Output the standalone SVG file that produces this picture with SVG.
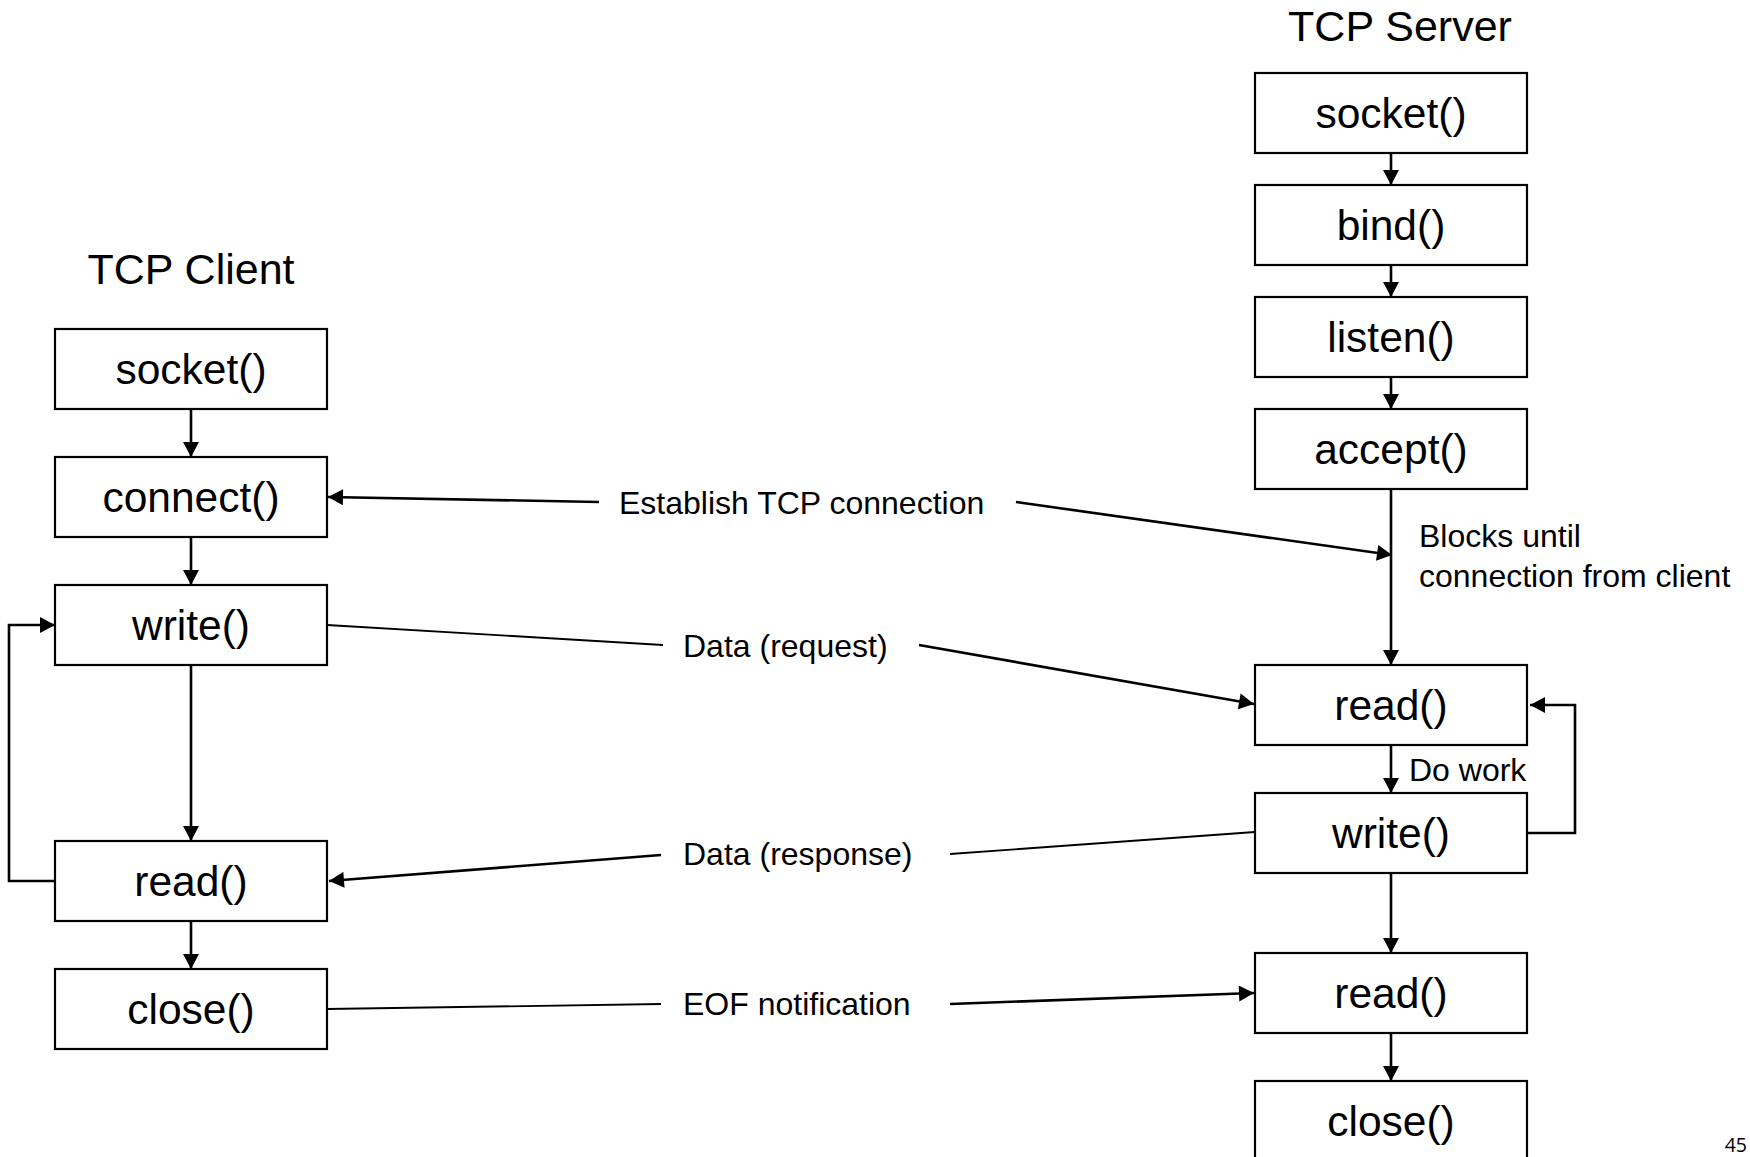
<svg xmlns="http://www.w3.org/2000/svg" width="1750" height="1157" viewBox="0 0 1750 1157">
<style>
.box{fill:#fff;stroke:#000;stroke-width:2.2}
.bt{font-family:"Liberation Sans",Arial,sans-serif;font-size:42.5px;text-anchor:middle;fill:#000}
.title{font-family:"Liberation Sans",Arial,sans-serif;font-size:43px;text-anchor:middle;fill:#000}
.lbl{font-family:"Liberation Sans",Arial,sans-serif;font-size:32px;fill:#000}
.c{fill:none;stroke:#000;stroke-width:2.6}
.ca{fill:none;stroke:#000;stroke-width:2.6}
.cp{fill:none;stroke:#000;stroke-width:1.8}
.pn{font-family:"Open Sans","Liberation Sans",sans-serif;font-size:19.5px;text-anchor:end;fill:#000}
</style>
<defs>
<marker id="ah" markerUnits="userSpaceOnUse" markerWidth="16" markerHeight="16" viewBox="0 0 15 16" refX="15" refY="8" orient="auto">
<path d="M0,0 L15,8 L0,16 Z" fill="#000"/>
</marker>
</defs>
<rect width="1750" height="1157" fill="#fff"/>

<text class="title" x="191" y="284">TCP Client</text>
<text class="title" x="1400" y="41">TCP Server</text>

<g id="connectors">
<line class="c" x1="191" y1="409" x2="191" y2="457" marker-end="url(#ah)"/>
<line class="c" x1="191" y1="537" x2="191" y2="585" marker-end="url(#ah)"/>
<line class="c" x1="191" y1="665" x2="191" y2="841" marker-end="url(#ah)"/>
<line class="c" x1="191" y1="921" x2="191" y2="969" marker-end="url(#ah)"/>
<polyline class="c" points="55,881 9,881 9,625 55,625" marker-end="url(#ah)"/>

<line class="c" x1="1391" y1="153" x2="1391" y2="185" marker-end="url(#ah)"/>
<line class="c" x1="1391" y1="265" x2="1391" y2="297" marker-end="url(#ah)"/>
<line class="c" x1="1391" y1="377" x2="1391" y2="409" marker-end="url(#ah)"/>
<line class="c" x1="1391" y1="489" x2="1391" y2="665" marker-end="url(#ah)"/>
<line class="c" x1="1391" y1="745" x2="1391" y2="793" marker-end="url(#ah)"/>
<line class="c" x1="1391" y1="873" x2="1391" y2="953" marker-end="url(#ah)"/>
<line class="c" x1="1391" y1="1033" x2="1391" y2="1081" marker-end="url(#ah)"/>
<polyline class="c" points="1527,833 1575,833 1575,705 1530,705" marker-end="url(#ah)"/>

<line class="ca" x1="599" y1="502" x2="328" y2="497" marker-end="url(#ah)"/>
<line class="ca" x1="1016" y1="502" x2="1392" y2="555" marker-end="url(#ah)"/>

<line class="cp" x1="327" y1="625" x2="663" y2="645"/>
<line class="ca" x1="919" y1="645" x2="1254" y2="704" marker-end="url(#ah)"/>

<line class="cp" x1="1255" y1="832" x2="950" y2="854"/>
<line class="ca" x1="661" y1="855" x2="329" y2="881" marker-end="url(#ah)"/>

<line class="cp" x1="327" y1="1009" x2="661" y2="1004"/>
<line class="ca" x1="950" y1="1004" x2="1254" y2="993" marker-end="url(#ah)"/>
</g>

<g id="c_socket"><rect class="box" x="55" y="329" width="272" height="80"/><text class="bt" x="191" y="384">socket()</text></g>
<g id="c_connect"><rect class="box" x="55" y="457" width="272" height="80"/><text class="bt" x="191" y="512">connect()</text></g>
<g id="c_write"><rect class="box" x="55" y="585" width="272" height="80"/><text class="bt" x="191" y="640">write()</text></g>
<g id="c_read"><rect class="box" x="55" y="841" width="272" height="80"/><text class="bt" x="191" y="896">read()</text></g>
<g id="c_close"><rect class="box" x="55" y="969" width="272" height="80"/><text class="bt" x="191" y="1024">close()</text></g>

<g id="s_socket"><rect class="box" x="1255" y="73" width="272" height="80"/><text class="bt" x="1391" y="128">socket()</text></g>
<g id="s_bind"><rect class="box" x="1255" y="185" width="272" height="80"/><text class="bt" x="1391" y="240">bind()</text></g>
<g id="s_listen"><rect class="box" x="1255" y="297" width="272" height="80"/><text class="bt" x="1391" y="352">listen()</text></g>
<g id="s_accept"><rect class="box" x="1255" y="409" width="272" height="80"/><text class="bt" x="1391" y="464">accept()</text></g>
<g id="s_read"><rect class="box" x="1255" y="665" width="272" height="80"/><text class="bt" x="1391" y="720">read()</text></g>
<g id="s_write"><rect class="box" x="1255" y="793" width="272" height="80"/><text class="bt" x="1391" y="848">write()</text></g>
<g id="s_read2"><rect class="box" x="1255" y="953" width="272" height="80"/><text class="bt" x="1391" y="1008">read()</text></g>
<g id="s_close"><rect class="box" x="1255" y="1081" width="272" height="80"/><text class="bt" x="1391" y="1136">close()</text></g>

<g id="labels">
<text class="lbl" x="619" y="514">Establish TCP connection</text>
<text class="lbl" x="683" y="657">Data (request)</text>
<text class="lbl" x="683" y="865">Data (response)</text>
<text class="lbl" x="683" y="1015">EOF notification</text>
<text class="lbl" x="1419" y="547">Blocks until</text>
<text class="lbl" x="1419" y="587">connection from client</text>
<text class="lbl" x="1409" y="781">Do work</text>
</g>
<text class="pn" x="1747" y="1152">45</text>
</svg>
